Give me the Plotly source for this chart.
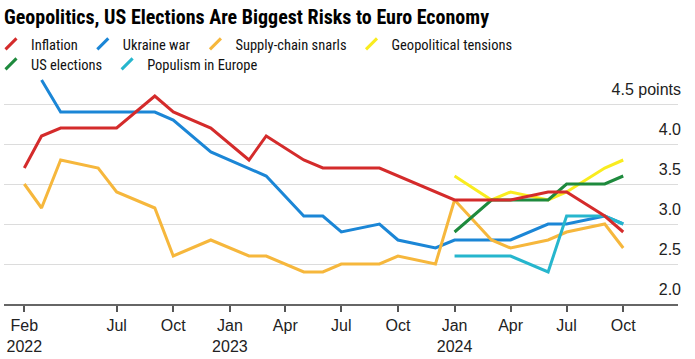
import plotly.graph_objects as go

# Survey dates (shared x values)
dates = ["2022-02-01", "2022-03-01", "2022-04-01", "2022-06-01", "2022-07-01",
         "2022-09-01", "2022-10-01", "2022-12-01", "2023-02-01", "2023-03-01",
         "2023-05-01", "2023-06-01", "2023-07-01", "2023-09-01", "2023-10-01",
         "2023-12-01", "2024-01-01", "2024-03-01", "2024-04-01", "2024-06-01",
         "2024-07-01", "2024-09-01", "2024-10-01"]

inflation = [3.7, 4.1, 4.2, 4.2, 4.2, 4.6, 4.4, 4.2, 3.8, 4.1, 3.8, 3.7, 3.7, 3.7,
             None, None, 3.3, 3.3, 3.3, 3.4, 3.4, 3.1, 2.9]
ukraine_war = [None, 4.8, 4.4, 4.4, 4.4, 4.4, 4.3, 3.9, None, 3.6, 3.1, 3.1, 2.9, 3.0,
               2.8, 2.7, 2.8, 2.8, 2.8, 3.0, 3.0, 3.1, 3.0]
supply_chain = [3.5, 3.2, 3.8, 3.7, 3.4, 3.2, 2.6, 2.8, 2.6, 2.6, 2.4, 2.4, 2.5, 2.5,
                2.6, 2.5, 3.3, 2.8, 2.7, 2.8, 2.9, 3.0, 2.7]
geopolitical = [None] * 16 + [3.6, 3.3, 3.4, 3.3, 3.4, 3.7, 3.8]
us_elections = [None] * 16 + [2.9, 3.3, 3.3, 3.3, 3.5, 3.5, 3.6]
populism = [None] * 16 + [2.6, 2.6, 2.6, 2.4, 3.1, 3.1, 3.0]

series_names = ["Inflation", "Ukraine war", "Supply-chain snarls",
                "Geopolitical tensions", "US elections", "Populism in Europe"]
series_values = [inflation, ukraine_war, supply_chain, geopolitical, us_elections, populism]
series_colors = ["#d42b2b", "#1b86d6", "#f6b73c", "#f9ec1f", "#1e8a3d", "#26b6cd"]
legend_rows = ["legend", "legend", "legend", "legend", "legend2", "legend2"]

x_tick_vals = ["2022-02-01", "2022-07-01", "2022-10-01", "2023-01-01", "2023-04-01",
               "2023-07-01", "2023-10-01", "2024-01-01", "2024-04-01", "2024-07-01",
               "2024-10-01"]
x_tick_text = ["Feb<br>2022", "Jul", "Oct", "Jan<br>2023", "Apr", "Jul", "Oct",
               "Jan<br>2024", "Apr", "Jul", "Oct"]
y_tick_vals = [2.0, 2.5, 3.0, 3.5, 4.0, 4.5]
y_tick_text = ["2.0", "2.5", "3.0", "3.5", "4.0", "4.5 points"]

BASE = "Liberation Sans, Arial, Helvetica, sans-serif"
NARROW = "Roboto Condensed, Liberation Sans Narrow, Arial Narrow, Roboto, sans-serif"

fig = go.Figure()

# data lines (inflation drawn last so it sits on top)
draw_order = [1, 2, 3, 4, 5, 0]
for i in draw_order:
    fig.add_trace(go.Scatter(
        x=dates, y=series_values[i], name=series_names[i], mode="lines",
        connectgaps=True, showlegend=False,
        line=dict(color=series_colors[i], width=3),
        hoverinfo="skip"))

# legend entries with slash symbols
for i in range(6):
    fig.add_trace(go.Scatter(
        x=[None], y=[None], name=series_names[i], mode="markers",
        legend=legend_rows[i],
        marker=dict(symbol="line-ne", size=11,
                    line=dict(width=3, color=series_colors[i]))))

legend_common = dict(orientation="h", xref="paper", yref="paper",
                     xanchor="left", yanchor="middle",
                     font=dict(family=NARROW, size=14.5, color="#111"),
                     bgcolor="rgba(0,0,0,0)", itemwidth=30,
                     tracegroupgap=0)

PLOT_TOP, PLOT_BOTTOM = 76, 304
plot_h = PLOT_BOTTOM - PLOT_TOP

fig.update_layout(
    width=695, height=359,
    margin=dict(l=4, r=17, t=PLOT_TOP, b=359 - PLOT_BOTTOM, autoexpand=False),
    paper_bgcolor="white", plot_bgcolor="white",
    title=dict(text="<b>Geopolitics, US Elections Are Biggest Risks to Euro Economy</b>",
               xref="container", yref="container", x=4 / 695, xanchor="left",
               y=1 - 16.5 / 359, yanchor="middle",
               font=dict(family=NARROW, size=20, color="#000")),
    legend=dict(x=-13 / 674, y=(PLOT_BOTTOM - 44) / plot_h, **legend_common),
    legend2=dict(x=-13 / 674, y=(PLOT_BOTTOM - 64) / plot_h, **legend_common),
    xaxis=dict(type="date", range=["2021-12-30", "2024-12-29"],
               tickmode="array", tickvals=x_tick_vals, ticktext=x_tick_text,
               ticks="outside", ticklen=6, tickwidth=1.5, tickcolor="#555",
               showline=True, linecolor="#666", linewidth=2,
               showgrid=False, zeroline=False,
               tickfont=dict(family=BASE, size=16, color="#222")),
    # y axis placed at the right edge, labels drawn to its left (right-aligned)
    yaxis=dict(range=[2, 4.85], tickmode="array", tickvals=y_tick_vals,
               ticktext=y_tick_text, anchor="free", position=1, side="left",
               ticklabelposition="outside", ticklabelshift=-15,
               ticklabelstandoff=-3, ticks="",
               showgrid=True, gridcolor="#dcdcdc", gridwidth=1,
               zeroline=False, showline=False,
               tickfont=dict(family=BASE, size=16, color="#222")),
    hovermode=False,
)

fig.write_html("out.html", config={"displayModeBar": False},
               post_script="document.body.style.margin='0';document.body.style.padding='0';")
